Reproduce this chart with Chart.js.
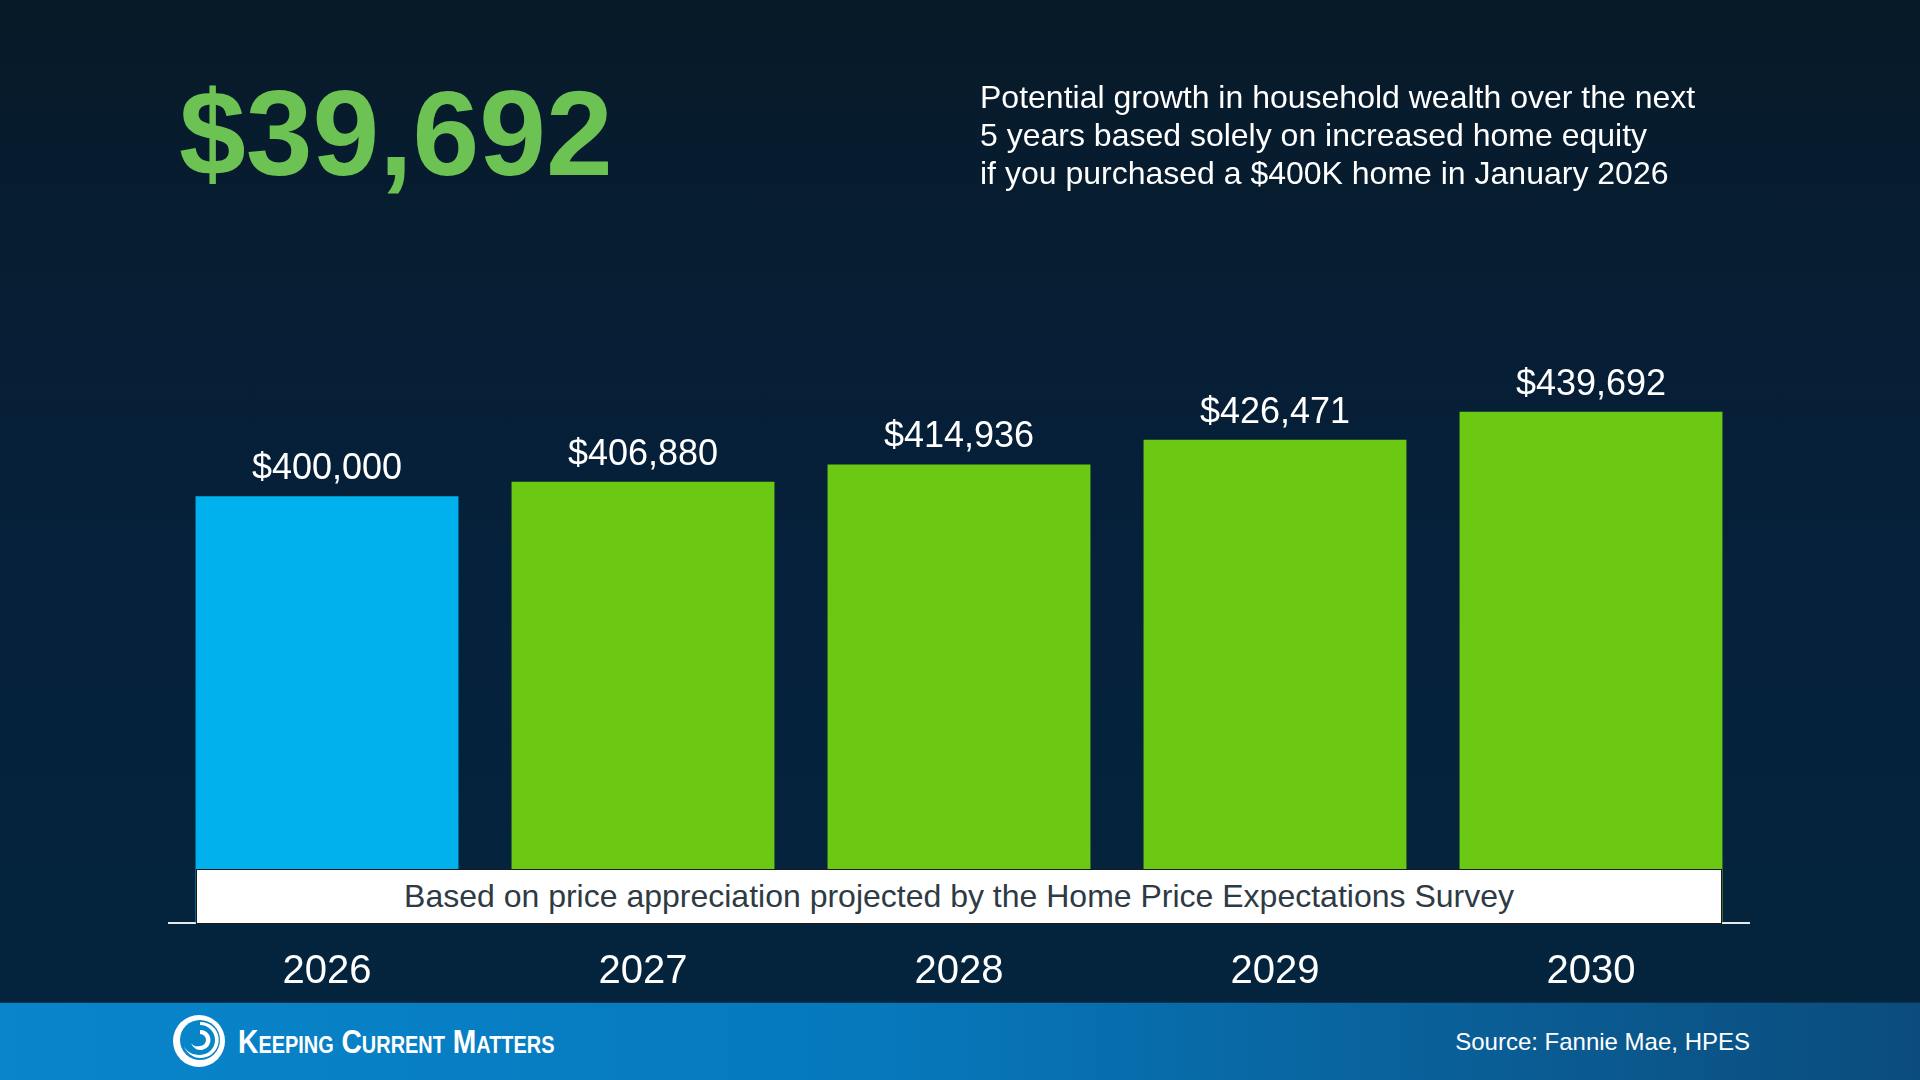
<!DOCTYPE html>
<html>
<head>
<meta charset="utf-8">
<script src="https://cdn.jsdelivr.net/npm/chart.js@4.4.1/dist/chart.umd.min.js"></script>
<style>
  html, body { margin:0; padding:0; }
  body { width:1920px; height:1080px; position:relative; overflow:hidden;
    background: linear-gradient(180deg, #071a28 0%, #06203a 45%, #04253f 100%);
    font-family: "Liberation Sans", Arial, sans-serif; }
  #chartWrap { position:absolute; left:0; top:0; width:1920px; height:1080px; }
  .title { position:absolute; left:179px; top:73px; font-size:120px; line-height:1; font-weight:bold; color:#6dc254; }
  .sub { position:absolute; left:980px; top:78px; font-size:32px; line-height:38px; color:#ffffff; }
  .note { position:absolute; left:196px; top:869px; width:1524px; height:53px; background:#fff; border:1px solid #1a1a1a;
    font-size:32px; line-height:53px; text-align:center; color:#2e3a44; z-index:5; }
  .footer { position:absolute; left:0; top:1002px; width:1920px; height:78px;
    background: linear-gradient(90deg, #0985cb 0%, #0679bd 45%, #0a5c93 80%, #0b4c7d 100%);
    border-top:1px solid #0a3350; }
  .logoText { position:absolute; left:238px; top:1024px; font-family:"Liberation Sans", Arial, sans-serif;
    font-size:34px; line-height:34px; font-variant:small-caps; color:#fff; font-weight:bold;
    transform: scaleX(0.83); transform-origin: left center; white-space:nowrap; }
  .logo { position:absolute; left:171px; top:1013px; width:56px; height:56px; }
  .source { position:absolute; right:170px; top:1030px; font-size:24px; line-height:1; color:#fff; }
</style>
</head>
<body>
<div id="chartWrap"><canvas id="c" width="1920" height="1080"></canvas></div>
<div class="title">$39,692</div>
<div class="sub">Potential growth in household wealth over the next<br>5 years based solely on increased home equity<br>if you purchased a $400K home in January 2026</div>
<div class="note">Based on price appreciation projected by the Home Price Expectations Survey</div>
<div class="footer"></div>
<svg class="logo" viewBox="0 0 56 56">
  <circle cx="28" cy="28" r="26" fill="#fff"/>
  <circle cx="29" cy="27" r="20" fill="#0884c9"/>
  <path d="M29 9 A18 18 0 1 1 12 30 A16 14 0 0 0 29 42 A15 15 0 0 0 29 12 Z" fill="#fff"/>
  <circle cx="29" cy="27" r="11" fill="#0884c9"/>
  <path d="M29 17 A10 10 0 1 1 20 30 A8 7 0 0 0 29 33 A6 6 0 0 0 29 21 Z" fill="#fff"/>
</svg>
<div class="logoText">Keeping Current Matters</div>
<div class="source">Source: Fannie Mae, HPES</div>
<script>
const years = ["2026", "2027", "2028", "2029", "2030"];
const homeValues = [400000, 406880, 414936, 426471, 439692];
const barColors = ["#00b1ee", "#6cc913", "#6cc913", "#6cc913", "#6cc913"];

const fmt = v => "$" + v.toLocaleString("en-US");

const valueLabels = {
  id: "valueLabels",
  afterDatasetsDraw(chart) {
    const ctx = chart.ctx;
    const meta = chart.getDatasetMeta(0);
    ctx.save();
    ctx.font = '36px "Liberation Sans", Arial, sans-serif';
    ctx.fillStyle = "#ffffff";
    ctx.textAlign = "center";
    ctx.textBaseline = "alphabetic";
    meta.data.forEach((bar, i) => {
      ctx.fillText(fmt(homeValues[i]), bar.x, bar.y - 17);
    });
    ctx.restore();
  }
};

new Chart(document.getElementById("c"), {
  type: "bar",
  data: {
    labels: years,
    datasets: [{ data: homeValues, backgroundColor: barColors, borderWidth: 0,
      categoryPercentage: 1.0, barPercentage: 0.832 }]
  },
  options: {
    responsive: false,
    animation: false,
    events: [],
    layout: { padding: { left: 169, right: 171, top: 283, bottom: 59 } },
    plugins: { legend: { display: false }, tooltip: { enabled: false } },
    scales: {
      x: {
        grid: { display: false, drawTicks: false },
        border: { display: true, color: "#e6e9ec", width: 2 },
        ticks: { color: "#ffffff", padding: 25, font: { family: '"Liberation Sans", Arial, sans-serif', size: 40 } }
      },
      y: { display: false, min: 200000, max: 500000 }
    }
  },
  plugins: [valueLabels]
});
</script>
</body>
</html>
